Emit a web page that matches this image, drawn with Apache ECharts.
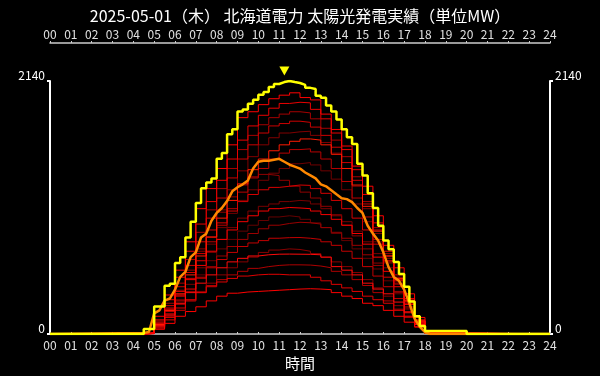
<!DOCTYPE html>
<html>
<head>
<meta charset="utf-8">
<script src="https://cdn.jsdelivr.net/npm/echarts@6/dist/echarts.min.js"></script>
<style>
html,body{margin:0;padding:0;background:#000;}
#main{width:600px;height:376px;}
</style>
</head>
<body>
<div id="main"></div>
<script>
// solar output chart, hokkaido
var titleText = '2025-05-01（木） 北海道電力 太陽光発電実績（単位MW）';
var yMax = 2140;

// half hour times for the past days (04:30 .. 18:30)
var halfHours = [4.5,5,5.5,6,6.5,7,7.5,8,8.5,9,9.5,10,10.5,11,11.5,12,12.5,13,13.5,14,14.5,15,15.5,16,16.5,17,17.5,18,18.5];
// quarter hour times for max line and today (04:30 .. 18:00)
var quarterHours = [4.5,4.75,5,5.25,5.5,5.75,6,6.25,6.5,6.75,7,7.25,7.5,7.75,8,8.25,8.5,8.75,9,9.25,9.5,9.75,10,10.25,10.5,10.75,11,11.25,11.5,11.75,12,12.25,12.5,12.75,13,13.25,13.5,13.75,14,14.25,14.5,14.75,15,15.25,15.5,15.75,16,16.25,16.5,16.75,17,17.25,17.5,17.75,18];

// yellow: record max
var maxValues = [42,42,233,233,408,425,600,650,816,950,1108,1232,1282,1316,1482,1532,1690,1732,1882,1899,1948,1982,2023,2048,2090,2115,2131,2140,2131,2123,2107,2082,2073,2015,1998,1932,1882,1815,1732,1665,1607,1441,1341,1191,1066,916,791,716,608,508,400,275,150,67,25];
// orange: today
var todayValues = [8,17,175,200,283,300,375,483,525,650,691,816,849,958,1024,1066,1124,1207,1241,1266,1299,1399,1457,1466,1466,1474,1482,1457,1432,1416,1399,1366,1341,1316,1266,1249,1216,1182,1149,1141,1116,1066,1024,916,849,791,691,566,483,450,375,260,130,60,15];

// red: past days
var pastDays = [
  [6,80,190,320,470,620,760,900,1020,1130,1220,1300,1360,1400,1440,1450,1430,1380,1310,1220,1100,950,780,600,420,250,100,8,0],
  [4,60,150,260,380,500,620,720,800,870,920,960,990,1000,990,970,940,900,850,790,720,640,550,450,340,210,80,5,0],
  [8,90,220,360,520,700,880,1050,1220,1380,1500,1600,1660,1700,1710,1715,1680,1620,1530,1400,1250,1060,850,640,450,270,100,10,0],
  [5,70,170,290,420,560,690,800,900,980,1040,1080,1100,1120,1130,1124,1100,1060,1010,950,870,780,680,560,420,260,100,8,0],
  [4,50,120,200,280,360,430,500,560,610,650,690,710,720,715,700,680,650,610,570,520,460,390,320,240,150,60,4,0],
  [6,90,220,370,540,720,880,1030,1160,1260,1330,1350,1340,1300,1250,1200,1150,1080,1000,920,830,720,600,480,350,220,90,8,0],
  [5,60,150,250,360,470,570,660,740,800,850,890,920,935,945,941,930,900,860,810,750,670,580,480,360,230,90,5,0],
  [10,110,260,430,630,860,1050,1230,1400,1560,1680,1770,1830,1860,1880,1870,1820,1740,1640,1500,1330,1120,900,680,480,290,110,10,0],
  [4,50,120,200,280,350,410,460,500,530,555,570,580,585,585,583,575,560,530,500,460,410,350,280,210,140,60,5,0],
  [6,80,190,320,470,620,780,920,1060,1200,1320,1400,1480,1530,1560,1566,1540,1480,1400,1290,1150,990,800,610,430,260,100,8,0],
  [5,70,170,280,380,480,560,630,690,740,770,790,810,815,816,810,800,780,750,700,640,570,490,400,300,190,80,5,0],
  [8,100,240,400,580,780,980,1150,1320,1480,1600,1700,1760,1780,1800,1790,1750,1680,1580,1450,1300,1100,880,660,460,280,100,10,0],
  [5,90,210,360,520,680,820,940,1040,1120,1180,1220,1240,1250,1260,1257,1230,1190,1130,1060,980,880,760,620,450,280,110,8,0],
  [4,60,140,220,290,350,400,440,470,490,500,505,505,500,500,500,480,450,420,390,360,320,290,260,200,150,90,25,0],
  [10,120,290,480,700,930,1120,1300,1480,1640,1760,1850,1910,1950,1960,1955,1900,1820,1700,1560,1390,1180,940,700,500,300,120,15,0],
  [5,80,200,330,460,580,700,800,880,950,1000,1040,1060,1070,1066,1060,1040,1010,970,920,850,760,650,530,400,250,100,8,0],
  [6,80,200,340,500,660,820,980,1130,1270,1390,1480,1550,1600,1630,1650,1640,1600,1520,1400,1260,1080,870,660,470,280,110,10,0],
  [5,70,160,260,350,430,500,560,610,640,660,670,675,676,675,674,670,650,570,540,500,430,380,340,270,180,80,5,0],
  [0,40,90,150,190,230,280,320,345,355,360,365,370,375,380,383,380,375,350,320,300,260,240,200,150,100,60,20,0],
  [15,150,330,540,780,1060,1230,1400,1600,1830,1880,1940,1990,2020,2040,2000,1980,1860,1730,1590,1420,1250,1000,750,560,340,140,20,0]
];
var pastColors = ['#700000','#660000','#800000','#780000','#880000','#900000','#9a0000','#a40000','#ae0000','#b80000',
                  '#c20000','#cc0000','#d60000','#e00000','#ea0000','#f40000','#ff1a00','#ff0a0a','#ff0000','#ff0000'];

function hourLabel(v){
  return (v < 10 ? '0' : '') + v;
}

function toPairs(times, values){
  var out = [[0,0]];
  for(var i=0;i<times.length;i++){
    out.push([times[i], values[i]]);
  }
  return out;
}

var series = [];
for(var i=0;i<pastDays.length;i++){
  var d = toPairs(halfHours, pastDays[i]);
  d.push([24,0]);
  series.push({type:'line', step:'end', showSymbol:false, silent:true, data:d,
    lineStyle:{color:pastColors[i], width:1}, xAxisIndex:0, yAxisIndex:0});
}
var todayData = toPairs(quarterHours, todayValues);
todayData.push([18.25,0]); todayData.push([24,0]);
series.push({type:'line', showSymbol:false, data:todayData,
  lineStyle:{color:'#ff8800', width:2.5}});
var maxData = toPairs(quarterHours, maxValues);
maxData.push([20,0]); maxData.push([24,0]);
series.push({type:'line', step:'end', showSymbol:false, data:maxData,
  lineStyle:{color:'#ffff00', width:2.5},
  markPoint:{
    symbol:'triangle', symbolSize:[10,9], symbolRotate:180, symbolOffset:[0,-10],
    itemStyle:{color:'#ffff00'}, label:{show:false},
    data:[{type:'max'}]
  }});

var font = '"Noto Sans CJK JP", "Noto Sans", sans-serif';
var xBase = {
  type:'value', min:0, max:24, interval:1,
  splitLine:{show:false},
  axisLine:{onZero:false, lineStyle:{color:'#cccccc', width:1.5}},
  axisLabel:{color:'#e0e0e0', fontSize:12, fontFamily:font, formatter:hourLabel}
};
var yBase = {
  type:'value', min:0, max:yMax, interval:yMax,
  splitLine:{show:false},
  axisLine:{show:true, onZero:false, lineStyle:{color:'#ffffff', width:2}},
  axisTick:{show:true, length:3, lineStyle:{color:'#ffffff', width:2}},
  axisLabel:{color:'#ffffff', fontSize:12, fontFamily:font, margin:5, verticalAlign:'bottom',
    formatter:function(v){ return String(v); }}
};

var myChart = echarts.init(document.getElementById('main'));
var option = {
  backgroundColor:'#000000',
  animation:false,
  title:{
    text:titleText, left:'center', top:3,
    textStyle:{color:'#ffffff', fontSize:16, fontWeight:'normal', fontFamily:font}
  },
  grid:{left:50, right:50, top:81, height:257, containLabel:false},
  xAxis:[
    Object.assign({}, xBase, {position:'bottom',
      axisTick:{inside:true, length:2, lineStyle:{color:'#cccccc'}},
      axisLabel:Object.assign({}, xBase.axisLabel, {margin:5}),
      name:'時間', nameLocation:'middle', nameGap:22,
      nameTextStyle:{color:'#ffffff', fontSize:15, fontFamily:font}}),
    Object.assign({}, xBase, {position:'top', offset:38,
      axisTick:{length:2, lineStyle:{color:'#cccccc'}},
      axisLabel:Object.assign({}, xBase.axisLabel, {margin:3})})
  ],
  yAxis:[
    Object.assign({}, yBase, {position:'left'}),
    Object.assign({}, yBase, {position:'right'})
  ],
  series:series
};
myChart.setOption(option);
</script>
</body>
</html>
